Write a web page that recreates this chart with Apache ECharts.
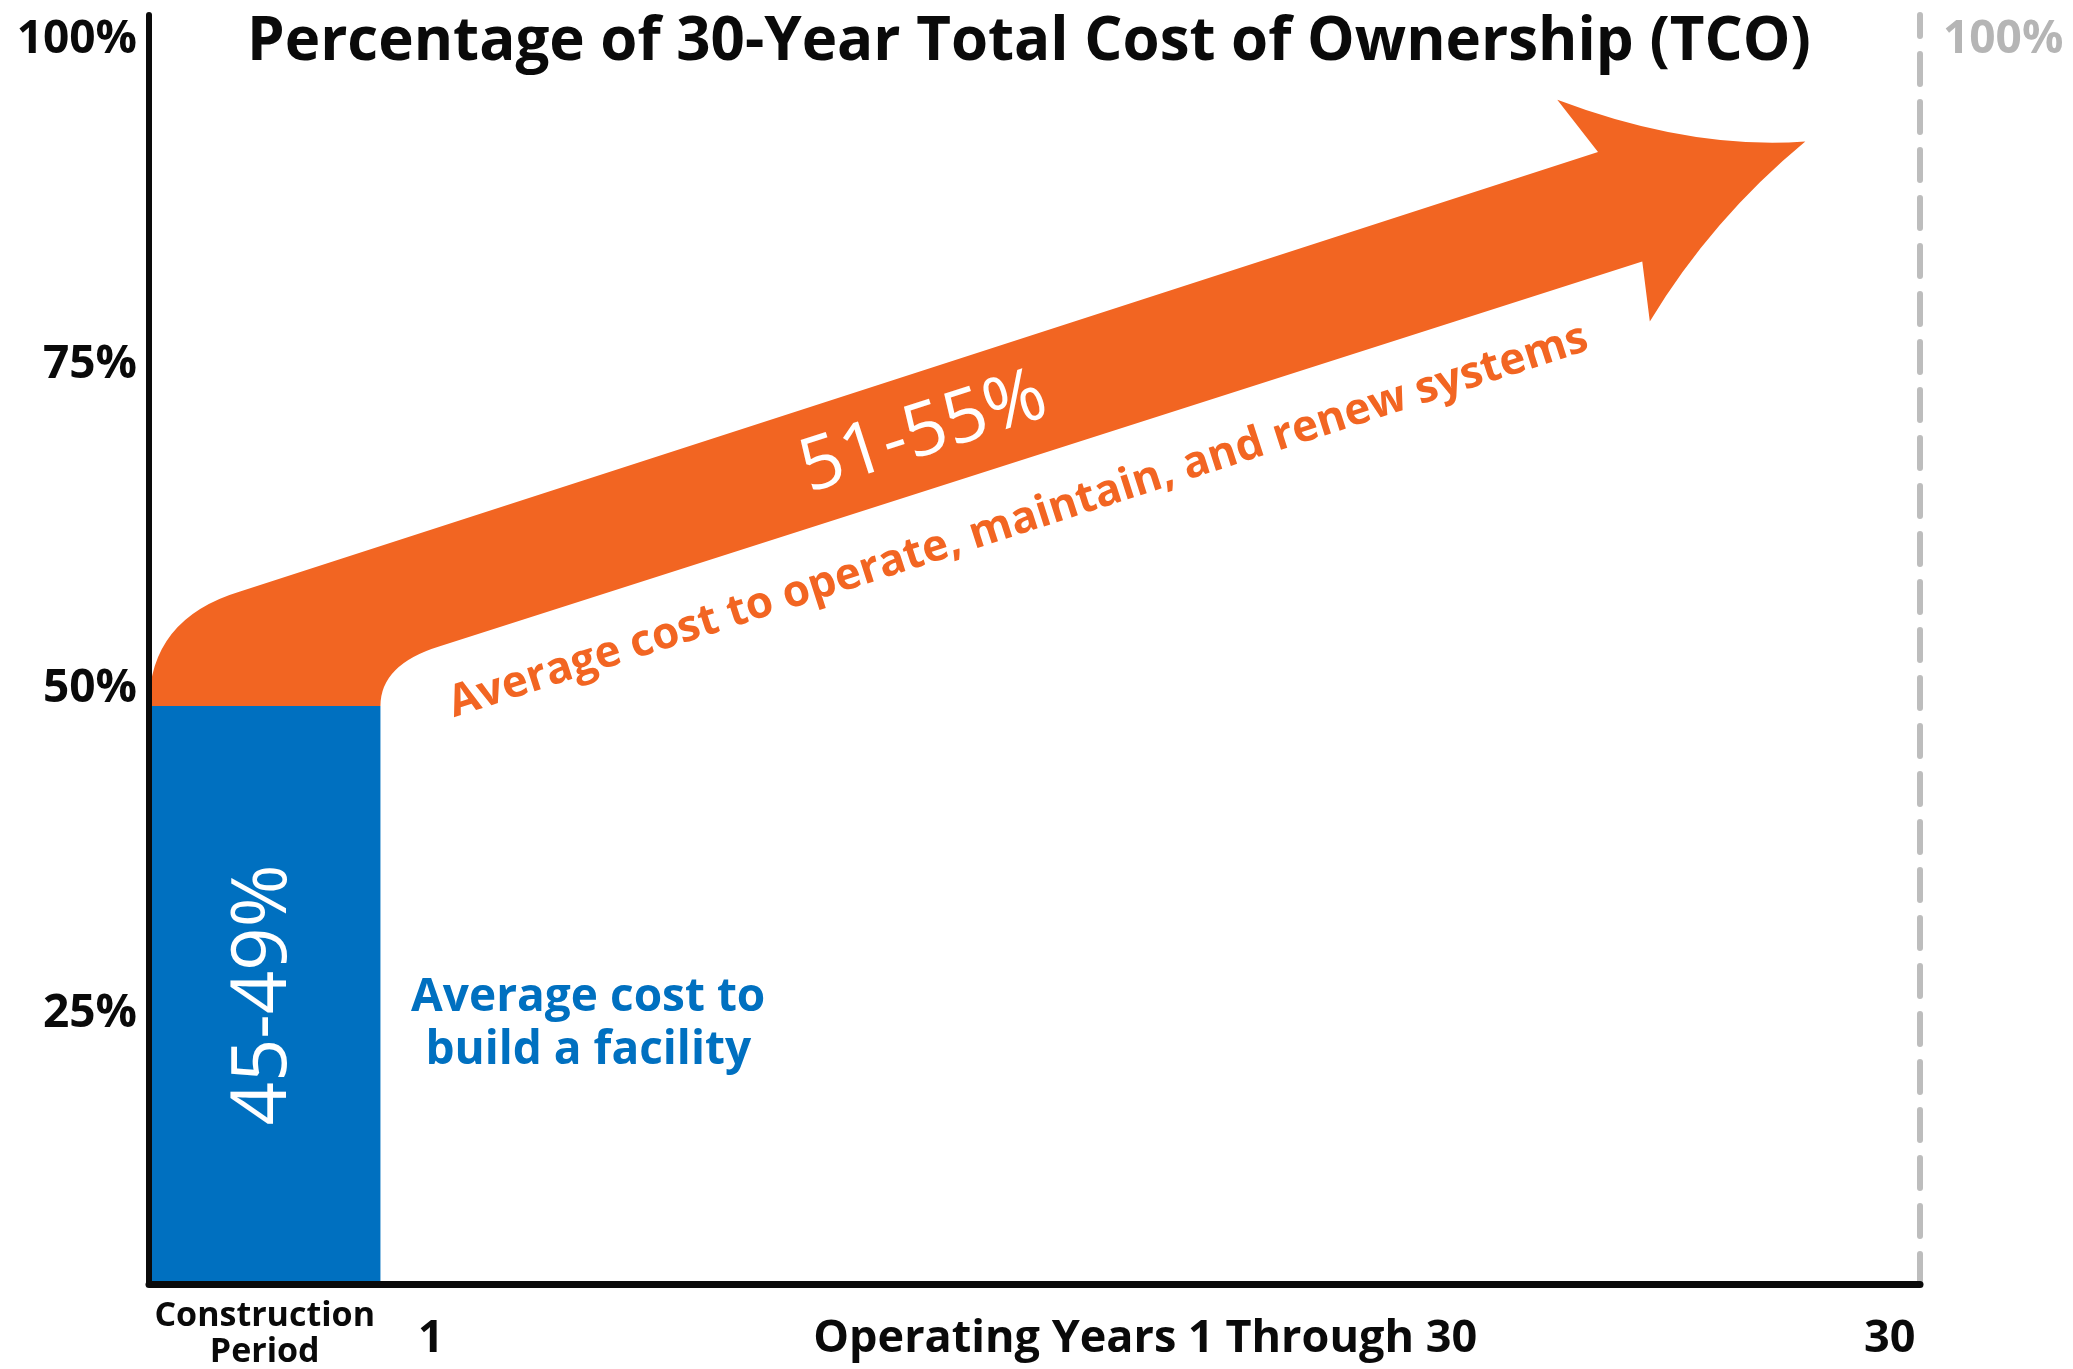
<!DOCTYPE html>
<html>
<head>
<meta charset="utf-8">
<script src="https://cdn.jsdelivr.net/npm/echarts@6/dist/echarts.min.js"></script>
<style>
html,body{margin:0;padding:0;background:#ffffff;}
#chart{width:2073px;height:1369px;}
</style>
</head>
<body>
<div id="chart"></div>
<script>
// ---------- data (axis units: x = years, y = percent of 30-year TCO) ----------
const titleText = 'Percentage of 30-Year Total Cost of Ownership (TCO)';
const yTickValues = [25, 50, 75, 100];
const yRightTickValues = [100];
const xTickValues = [-2.3, 1, 15.2, 30];
const xTickLabels = ['Construction\nPeriod', '1', 'Operating Years 1 Through 30', '30'];
const constructionSpan = [-4.6, 0];      // construction period, years before year 0
const constructionShare = 48.7;          // top of the blue block, %
const constructionLabel = '45-49%';
const constructionNote = 'Average cost to\nbuild a facility';
const operatingLabel = '51-55%';
const operatingNote = 'Average cost to operate, maintain, and renew systems';
// arrow outline in axis units: [command, x1, y1, (x2, y2)]
const arrowPath = [
  ['M', -4.6, 48.7],
  ['Q', -4.6, 55.41, -2.79, 57.52],
  ['L', 24.2, 91.36],
  ['L', 23.39, 95.38],
  ['Q', 26.03, 91.52, 28.32, 92.16],
  ['Q', 26.47, 86.24, 25.23, 78.31],
  ['L', 25.08, 82.93],
  ['L', 1.18, 53.30],
  ['Q', 0, 51.90, 0, 48.7],
  ['Z']
];

// ---------- styling ----------
const ORANGE = '#F26522';
const BLUE = '#0070C0';
const BLACK = '#0a0a0a';
const FONT = '"Open Sans", "Noto Sans", sans-serif';
const X_MIN = -4.6, X_MAX = 30.6, Y_MIN = 4.2, Y_MAX = 101.9;

function xLabel(v) {
  const i = xTickValues.findIndex(t => Math.abs(t - v) < 1e-6);
  if (i < 0) return '';
  const txt = xTickLabels[i];
  if (txt.indexOf('\n') >= 0) return txt.split('\n').map(s => '{s|' + s + '}').join('\n');
  return '{b|' + txt + '}';
}

function renderBlock(params, api) {
  const p0 = api.coord([api.value(0), Y_MIN]);
  const p1 = api.coord([api.value(1), api.value(2)]);
  const cx = (p0[0] + p1[0]) / 2, cy = (p0[1] + p1[1]) / 2;
  const note = api.coord([4.13, 24.18]);
  return {
    type: 'group',
    children: [
      { type: 'rect', shape: { x: p0[0], y: p1[1], width: p1[0] - p0[0], height: p0[1] - p1[1] },
        style: { fill: BLUE } },
      { type: 'text', x: cx, y: cy, rotation: Math.PI / 2,
        style: { text: constructionLabel, fill: '#ffffff', fontSize: 76, fontWeight: 'normal', fontFamily: FONT,
          align: 'center', verticalAlign: 'middle', textAlign: 'center', textVerticalAlign: 'middle' } },
      { type: 'text', x: note[0], y: note[1],
        style: { text: constructionNote, fill: BLUE, fontSize: 46, fontWeight: 'bold', fontFamily: FONT, lineHeight: 53,
          align: 'center', verticalAlign: 'middle', textAlign: 'center', textVerticalAlign: 'middle' } }
    ]
  };
}

function renderArrow(params, api) {
  let d = '';
  arrowPath.forEach(seg => {
    if (seg[0] === 'Z') { d += 'Z'; return; }
    const pts = [];
    for (let i = 1; i < seg.length; i += 2) {
      const p = api.coord([seg[i], seg[i + 1]]);
      pts.push(p[0].toFixed(2) + ' ' + p[1].toFixed(2));
    }
    d += seg[0] + pts.join(' ') + ' ';
  });
  const a = api.coord([arrowPath[1][3], arrowPath[1][4]]);
  const b = api.coord([arrowPath[2][1], arrowPath[2][2]]);
  const ang = Math.atan2(a[1] - b[1], b[0] - a[0]);
  const c1 = api.coord([10.80, 69.67]);
  const c2 = api.coord([12.68, 62.91]);
  return {
    type: 'group',
    children: [
      { type: 'path', shape: { pathData: d }, style: { fill: ORANGE } },
      { type: 'text', x: c1[0], y: c1[1], rotation: ang,
        style: { text: operatingLabel, fill: '#ffffff', fontSize: 74, fontWeight: 'normal', fontFamily: FONT,
          align: 'center', verticalAlign: 'middle', textAlign: 'center', textVerticalAlign: 'middle' } },
      { type: 'text', x: c2[0], y: c2[1], rotation: ang,
        style: { text: operatingNote, fill: ORANGE, fontSize: 44, fontWeight: 'bold', fontFamily: FONT,
          align: 'center', verticalAlign: 'middle', textAlign: 'center', textVerticalAlign: 'middle' } }
    ]
  };
}

const chart = echarts.init(document.getElementById('chart'), null, { renderer: 'canvas' });
chart.setOption({
  animation: false,
  backgroundColor: '#ffffff',
  title: {
    text: titleText,
    left: 247,
    top: 13,
    padding: 0,
    textStyle: { color: BLACK, fontSize: 60, fontWeight: 'bold', fontFamily: FONT }
  },
  grid: { left: 149, right: 153, top: 15, bottom: 83, containLabel: false },
  xAxis: {
    type: 'value', min: X_MIN, max: X_MAX, z: 10,
    axisLine: { show: true, onZero: false, lineStyle: { color: BLACK, width: 7 } },
    axisTick: { show: false },
    splitLine: { show: false },
    axisLabel: {
      customValues: xTickValues,
      formatter: xLabel,
      margin: 14,
      color: BLACK,
      fontFamily: FONT,
      rich: {
        s: { fontSize: 34, fontWeight: 'bold', lineHeight: 36, color: BLACK, fontFamily: FONT, align: 'center' },
        b: { fontSize: 45, fontWeight: 'bold', color: BLACK, fontFamily: FONT, padding: [19, 0, 0, 0] }
      }
    }
  },
  yAxis: [
    {
      type: 'value', min: Y_MIN, max: Y_MAX, position: 'left', z: 10,
      axisLine: { show: true, onZero: false, lineStyle: { color: BLACK, width: 6 } },
      axisTick: { show: false },
      splitLine: { show: false },
      axisLabel: {
        customValues: yTickValues,
        formatter: v => v + '%',
        margin: 12, color: BLACK, fontSize: 46, fontWeight: 'bold', fontFamily: FONT
      }
    },
    {
      type: 'value', min: Y_MIN, max: Y_MAX, position: 'right', z: 10,
      axisLine: { show: true, onZero: false, lineStyle: { color: '#bdbdbd', width: 6, type: [30, 18] } },
      axisTick: { show: false },
      splitLine: { show: false },
      axisLabel: {
        customValues: yRightTickValues,
        formatter: v => v + '%',
        margin: 23, color: '#b5b5b5', fontSize: 46, fontWeight: 'bold', fontFamily: FONT
      }
    }
  ],
  series: [
    {
      type: 'custom', name: 'Construction', xAxisIndex: 0, yAxisIndex: 0,
      data: [[constructionSpan[0], constructionSpan[1], constructionShare]],
      renderItem: renderBlock, silent: true
    },
    {
      type: 'custom', name: 'Operating', xAxisIndex: 0, yAxisIndex: 0,
      data: [[constructionSpan[1], constructionShare]],
      renderItem: renderArrow, silent: true
    }
  ]
});
</script>
</body>
</html>
